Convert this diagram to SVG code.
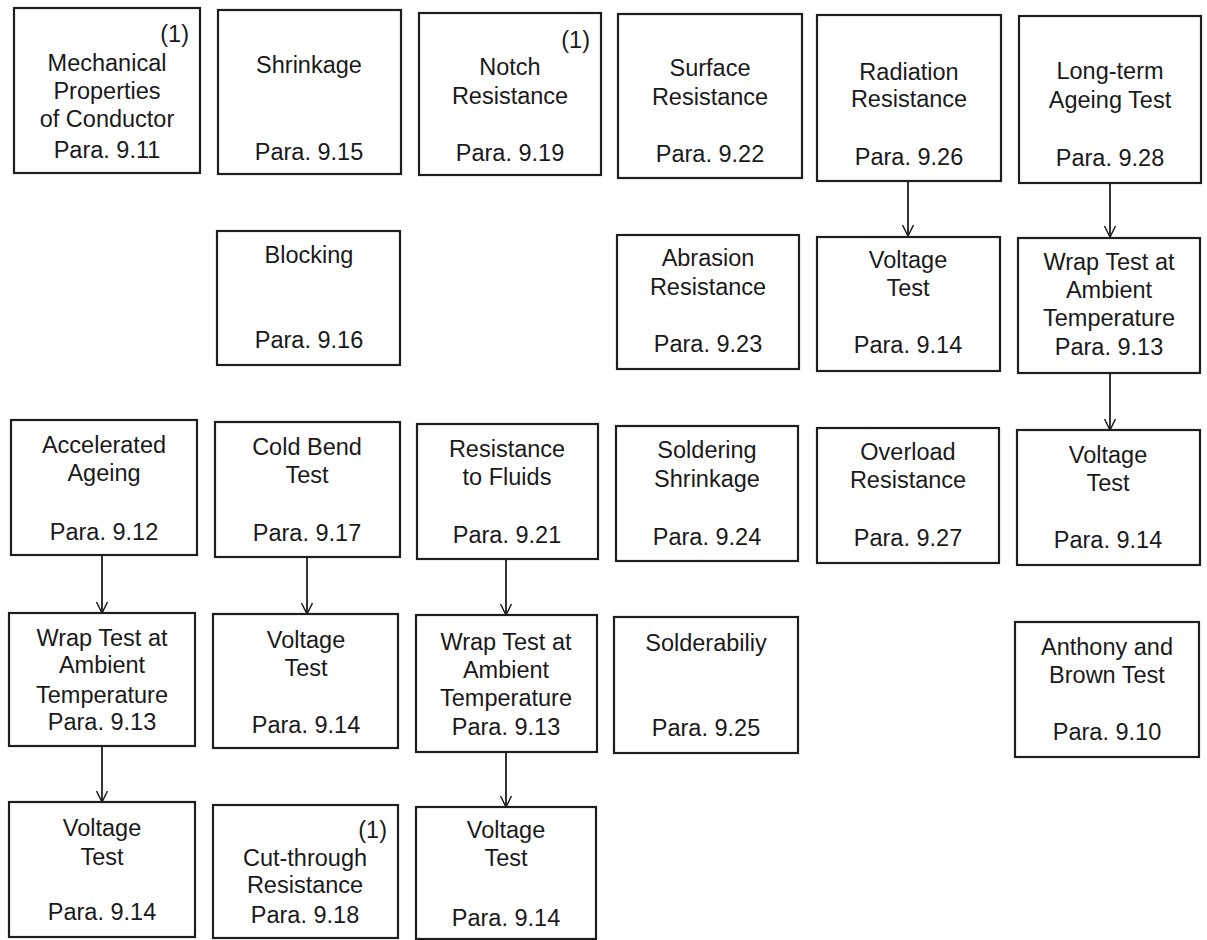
<svg xmlns="http://www.w3.org/2000/svg" width="1207" height="940" viewBox="0 0 1207 940">
<style>
rect{fill:#fff;stroke:#1e1e1e;stroke-width:2.2}
text{font-family:"Liberation Sans",Arial,sans-serif;font-size:23.5px;fill:#1a1a1a;text-anchor:middle}
.n{text-anchor:end}
.c{stroke:#1e1e1e;stroke-width:1.8;fill:none}
</style>
<defs>
<marker id="ah" markerWidth="14" markerHeight="14" refX="12" refY="7" orient="auto" markerUnits="userSpaceOnUse" viewBox="0 0 14 14">
<path d="M1,1.5 L12,7 L1,12.5 M5,3.5 L12,7 L5,10.5" fill="none" stroke="#1e1e1e" stroke-width="1.5"/>
</marker>
</defs>
<rect x="0" y="0" width="1207" height="940" style="stroke:none"/>
<g id="connectors">
<line class="c" x1="908" y1="182" x2="908" y2="236" marker-end="url(#ah)"/>
<line class="c" x1="1110" y1="184" x2="1110" y2="237" marker-end="url(#ah)"/>
<line class="c" x1="1110" y1="374" x2="1110" y2="430" marker-end="url(#ah)"/>
<line class="c" x1="102" y1="556" x2="102" y2="613" marker-end="url(#ah)"/>
<line class="c" x1="307" y1="558" x2="307" y2="614" marker-end="url(#ah)"/>
<line class="c" x1="506" y1="560" x2="506" y2="615" marker-end="url(#ah)"/>
<line class="c" x1="102" y1="747" x2="102" y2="802" marker-end="url(#ah)"/>
<line class="c" x1="506" y1="753" x2="506" y2="807" marker-end="url(#ah)"/>
</g>
<g id="n911"><rect x="14" y="8" width="186" height="165"/><text class="n" x="189" y="42">(1)</text><text x="107" y="71">Mechanical</text><text x="107" y="99">Properties</text><text x="107" y="127">of Conductor</text><text x="107" y="158">Para. 9.11</text></g>
<g id="n915"><rect x="218" y="10" width="183" height="164"/><text x="309" y="73">Shrinkage</text><text x="309" y="160">Para. 9.15</text></g>
<g id="n919"><rect x="419" y="13" width="182" height="162"/><text class="n" x="590" y="48">(1)</text><text x="510" y="75">Notch</text><text x="510" y="104">Resistance</text><text x="510" y="161">Para. 9.19</text></g>
<g id="n922"><rect x="618" y="14" width="184" height="164"/><text x="710" y="76">Surface</text><text x="710" y="105">Resistance</text><text x="710" y="162">Para. 9.22</text></g>
<g id="n926"><rect x="817" y="15" width="184" height="166"/><text x="909" y="80">Radiation</text><text x="909" y="107">Resistance</text><text x="909" y="165">Para. 9.26</text></g>
<g id="n928"><rect x="1019" y="16" width="182" height="167"/><text x="1110" y="79">Long-term</text><text x="1110" y="108">Ageing Test</text><text x="1110" y="166">Para. 9.28</text></g>
<g id="n916"><rect x="217" y="231" width="183" height="134"/><text x="309" y="263">Blocking</text><text x="309" y="348">Para. 9.16</text></g>
<g id="n923"><rect x="617" y="235" width="182" height="134"/><text x="708" y="266">Abrasion</text><text x="708" y="295">Resistance</text><text x="708" y="352">Para. 9.23</text></g>
<g id="v5"><rect x="817" y="237" width="183" height="134"/><text x="908" y="268">Voltage</text><text x="908" y="296">Test</text><text x="908" y="353">Para. 9.14</text></g>
<g id="w6"><rect x="1018" y="238" width="182" height="135"/><text x="1109" y="270">Wrap Test at</text><text x="1109" y="298">Ambient</text><text x="1109" y="326">Temperature</text><text x="1109" y="355">Para. 9.13</text></g>
<g id="n912"><rect x="11" y="420" width="186" height="135"/><text x="104" y="453">Accelerated</text><text x="104" y="481">Ageing</text><text x="104" y="540">Para. 9.12</text></g>
<g id="n917"><rect x="215" y="422" width="185" height="135"/><text x="307" y="455">Cold Bend</text><text x="307" y="483">Test</text><text x="307" y="541">Para. 9.17</text></g>
<g id="n921"><rect x="417" y="424" width="181" height="135"/><text x="507" y="457">Resistance</text><text x="507" y="485">to Fluids</text><text x="507" y="543">Para. 9.21</text></g>
<g id="n924"><rect x="616" y="426" width="182" height="135"/><text x="707" y="458">Soldering</text><text x="707" y="487">Shrinkage</text><text x="707" y="545">Para. 9.24</text></g>
<g id="n927"><rect x="817" y="428" width="182" height="135"/><text x="908" y="460">Overload</text><text x="908" y="488">Resistance</text><text x="908" y="546">Para. 9.27</text></g>
<g id="v6"><rect x="1017" y="430" width="183" height="135"/><text x="1108" y="463">Voltage</text><text x="1108" y="491">Test</text><text x="1108" y="548">Para. 9.14</text></g>
<g id="w1"><rect x="9" y="613" width="186" height="133"/><text x="102" y="646">Wrap Test at</text><text x="102" y="673">Ambient</text><text x="102" y="703">Temperature</text><text x="102" y="730">Para. 9.13</text></g>
<g id="v2"><rect x="213" y="614" width="185" height="134"/><text x="306" y="648">Voltage</text><text x="306" y="676">Test</text><text x="306" y="733">Para. 9.14</text></g>
<g id="w3"><rect x="416" y="615" width="181" height="137"/><text x="506" y="650">Wrap Test at</text><text x="506" y="678">Ambient</text><text x="506" y="706">Temperature</text><text x="506" y="735">Para. 9.13</text></g>
<g id="n925"><rect x="614" y="617" width="184" height="136"/><text x="706" y="651">Solderabiliy</text><text x="706" y="736">Para. 9.25</text></g>
<g id="n910"><rect x="1015" y="622" width="184" height="135"/><text x="1107" y="655">Anthony and</text><text x="1107" y="683">Brown Test</text><text x="1107" y="740">Para. 9.10</text></g>
<g id="v1"><rect x="9" y="802" width="186" height="135"/><text x="102" y="836">Voltage</text><text x="102" y="865">Test</text><text x="102" y="920">Para. 9.14</text></g>
<g id="n918"><rect x="213" y="805" width="185" height="133"/><text class="n" x="387" y="838">(1)</text><text x="305" y="866">Cut-through</text><text x="305" y="893">Resistance</text><text x="305" y="923">Para. 9.18</text></g>
<g id="v3"><rect x="416" y="807" width="180" height="132"/><text x="506" y="838">Voltage</text><text x="506" y="866">Test</text><text x="506" y="926">Para. 9.14</text></g>
</svg>
